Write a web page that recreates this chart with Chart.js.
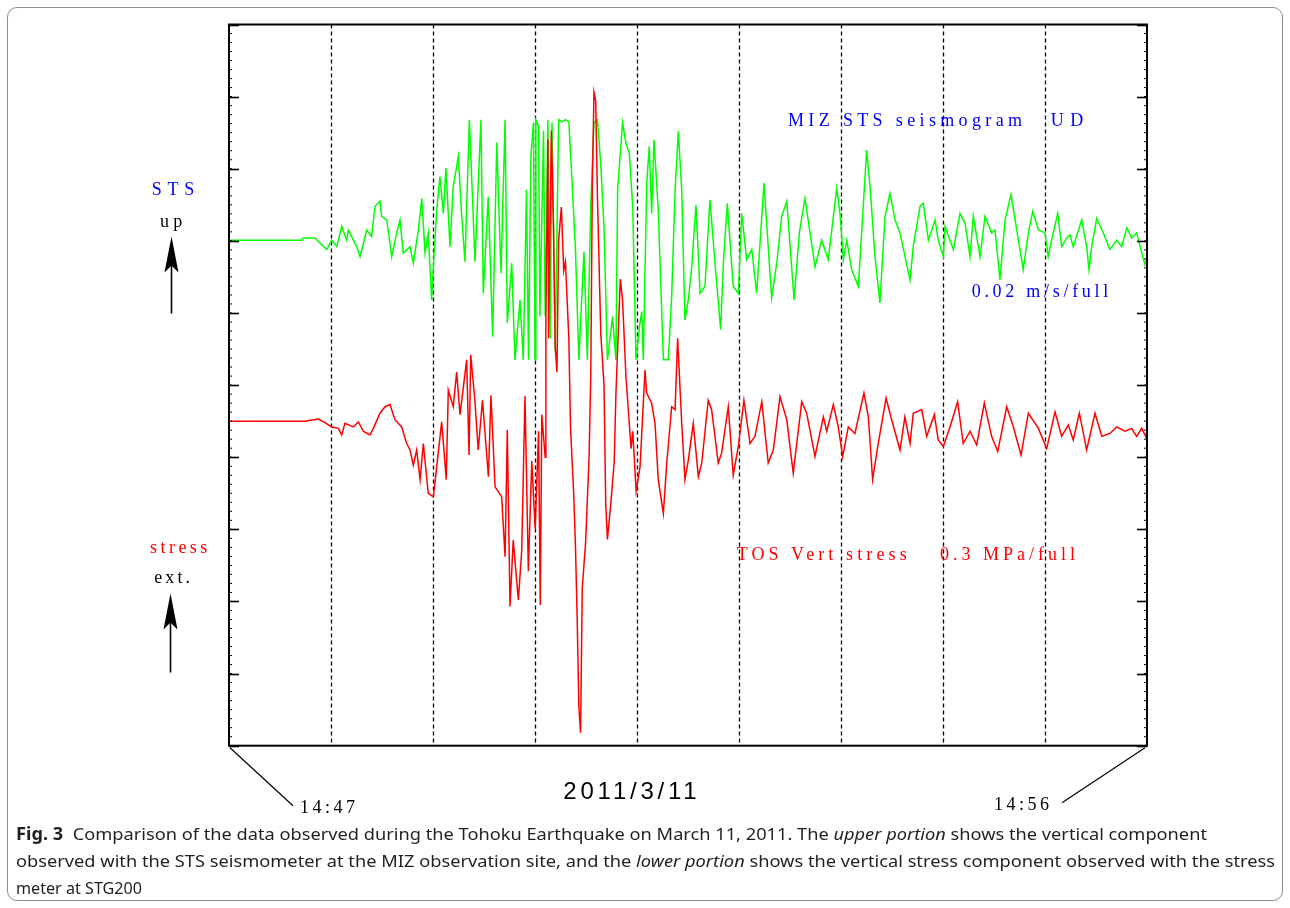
<!DOCTYPE html>
<html><head><meta charset="utf-8">
<script src="https://cdn.jsdelivr.net/npm/chart.js@4.4.1/dist/chart.umd.min.js"></script>
<style>
html,body{margin:0;padding:0;background:#fff;}
#wrap{position:relative;width:1290px;height:908px;overflow:hidden;background:#fff;}
#frame{position:absolute;left:7px;top:7px;width:1276px;height:894px;border:1.5px solid #8d8d8d;border-radius:10px;box-sizing:border-box;}
canvas{position:absolute;left:0;top:0;}
.lbl{position:absolute;white-space:pre;line-height:1;}
.m{display:inline-block;width:0;height:0;vertical-align:baseline;}
.cap{position:absolute;left:16px;white-space:pre;font-family:"Noto Sans","Open Sans",sans-serif;font-size:17px;color:#231f20;transform-origin:0 0;line-height:1;}
</style></head>
<body><div id="wrap"><div id="frame"></div><canvas id="c" width="1290" height="908"></canvas></div>
<script>
// ---- data (time in seconds after 14:47:00, value in chart divisions) ----
const stsTime = [
0,42.8,43.7,50.6,53.5,57.5,60.4,63.4,66.3,69.2,
70.2,75.1,77.1,81.0,83.9,85.9,88.8,89.8,92.8,95.7,
98.6,100.6,102.5,106.5,108.4,111.4,113.4,115.3,117.2,119.2,
120.2,122.2,124.1,126.1,127.6,130.0,131.9,134.9,136.9,138.8,
141.4,142.8,144.7,148.2,149.6,152.5,155.1,157.5,160.0,162.4,
163.7,166.3,168.2,171.2,173.1,175.0,176.2,177.6,179.1,180.0,
180.5,182.1,182.9,185.0,186.0,187.6,189.0,190.0,191.9,193.9,
195.9,197.9,199.9,201.8,203.8,205.8,208.8,210.8,212.8,214.7,
216.7,218.7,220.6,222.6,225.6,227.6,228.6,231.5,233.5,235.5,
237.5,239.4,241.5,242.8,243.7,245.7,247.2,248.6,250.0,252.5,
255.5,258.4,260.4,262.4,264.3,266.3,268.2,270.2,272.2,274.7,
277.1,280.0,282.9,285.9,289.2,290.8,293.1,296.6,299.6,301.6,
304.5,307.5,310.4,314.7,319.2,322.2,325.1,328.1,332.4,335.5,
338.8,341.8,344.7,348.6,352.5,357.5,359.4,361.4,363.4,366.3,
370.2,375.1,377.1,380.0,382.9,385.9,388.8,391.8,394.7,400.6,
402.5,406.5,408.4,411.4,415.3,417.2,420.2,421.2,426.1,430.0,
432.9,435.9,437.8,441.8,444.7,448.6,450.6,453.5,456.5,460.0,
463.4,467.2,470.2,472.8,476.1,480.0,481.9,483.9,487.5,489.8,
492.8,494.7,496.6,501.6,504.5,505.9,507.5,510.4,514.3,518.2,
522.2,525.1,528.1,531.0,533.9,536.9,538.8,540.0];
const stsValue = [
7.01,7.01,7.04,7.04,6.97,6.88,7.01,6.92,7.20,7.01,
7.15,6.92,6.78,7.15,7.06,7.48,7.55,7.34,7.29,6.78,
7.11,7.29,6.83,6.92,6.69,7.15,7.59,6.83,7.11,6.18,
6.64,7.43,7.89,7.38,8.01,6.92,7.75,8.17,7.34,6.71,
8.68,7.85,6.71,8.68,6.27,7.61,5.67,8.36,6.55,8.68,
5.86,6.69,5.35,6.18,5.35,7.71,5.35,8.18,8.64,5.35,
8.68,8.59,5.95,8.53,5.95,8.68,5.65,8.64,5.47,8.68,
8.65,8.68,8.65,7.82,6.88,5.35,6.85,5.35,7.47,8.64,
8.68,8.06,7.18,5.35,5.95,5.35,7.71,8.64,8.35,8.21,
7.47,5.35,5.82,6.02,5.35,7.78,8.31,7.38,8.40,7.43,
5.35,5.35,6.23,7.71,8.52,7.71,5.90,6.18,6.64,7.50,
6.27,6.37,7.57,6.69,5.77,6.69,7.52,6.37,6.27,7.38,
6.74,6.88,6.27,7.80,6.21,6.69,7.34,7.55,6.18,7.11,
7.59,7.11,6.64,7.01,6.74,7.73,7.38,6.74,7.01,6.60,
6.37,8.26,7.75,6.78,6.14,7.34,7.66,7.29,7.11,6.46,
6.92,7.48,7.52,7.01,7.29,7.01,6.78,7.20,6.88,7.38,
7.25,6.78,7.34,6.78,7.34,7.11,7.15,6.46,7.29,7.64,
7.15,6.60,7.11,7.41,7.15,7.11,6.78,7.01,7.38,6.92,
7.04,7.08,6.92,7.29,6.92,6.60,6.92,7.31,7.11,6.88,
7.01,6.92,7.18,7.04,7.11,6.83,6.67,6.78];
const stressTime = [
0,44.7,52.5,56.5,60.4,64.3,66.3,68.2,73.1,76.1,
79.0,82.9,84.9,88.8,91.8,94.7,97.6,101.6,104.5,106.5,
108.4,110.4,112.4,114.3,117.2,120.2,122.2,125.1,127.8,129.0,
131.9,133.9,135.9,139.8,141.2,142.2,144.7,146.6,149.1,152.6,
154.1,156.5,160.4,162.4,163.7,165.3,167.2,170.2,172.2,174.1,
176.1,178.1,180.1,182.1,183.1,184.0,186.0,186.4,187.6,188.0,
189.6,190.9,191.9,192.9,193.9,195.5,196.9,197.9,199.9,200.9,
202.8,203.8,204.8,205.8,206.8,207.8,209.8,211.8,212.8,213.7,
214.7,215.7,216.7,218.7,220.6,221.6,222.6,224.6,226.6,227.6,
230.2,231.5,233.5,236.5,237.5,239.5,241.8,244.7,245.7,248.6,
250.6,252.5,255.5,257.5,260.4,262.4,263.9,266.3,268.2,270.2,
273.1,276.1,278.1,281.9,283.9,287.8,289.8,293.7,296.6,299.6,
302.9,306.5,309.4,313.4,317.2,320.2,324.1,328.1,331.9,336.9,
339.8,344.7,349.6,351.6,355.5,358.4,361.0,364.3,368.2,373.5,
376.1,378.6,381.9,386.5,389.8,394.7,397.6,400.6,402.5,407.5,
410.4,414.9,417.2,420.2,424.1,428.6,431.9,435.9,439.8,444.3,
448.6,452.2,457.5,461.4,465.9,470.2,476.1,481.0,485.9,489.8,
493.7,496.6,500.2,504.5,509.4,513.4,518.2,522.2,527.1,531.0,
533.9,536.9,539.2,540.0];
const stressValue = [
4.50,4.50,4.53,4.48,4.42,4.40,4.31,4.47,4.42,4.49,
4.36,4.31,4.40,4.61,4.70,4.73,4.52,4.42,4.19,4.10,
3.89,4.10,3.69,4.19,3.50,3.45,3.87,4.49,3.69,4.93,
4.70,5.18,4.59,5.35,4.03,5.42,4.77,4.10,4.79,3.73,
4.86,3.59,3.45,2.62,4.38,1.93,2.85,2.02,2.71,4.85,
2.42,3.95,3.01,4.36,1.95,4.59,4.00,5.94,8.41,5.65,
8.53,7.18,5.53,5.18,7.00,7.47,6.59,6.71,5.65,4.41,
3.47,2.77,1.77,0.54,0.18,2.18,2.83,4.00,5.12,7.76,
9.06,8.94,7.65,5.71,5.00,3.36,2.86,3.36,3.94,4.88,
6.47,6.18,5.12,4.12,4.36,3.53,3.87,5.21,4.89,4.75,
4.47,3.69,3.22,3.92,4.70,4.66,5.65,4.47,3.69,3.96,
4.47,3.73,3.92,4.79,4.66,3.92,4.06,4.70,3.75,4.15,
4.79,4.19,4.29,4.77,3.92,4.10,4.84,4.52,3.78,4.77,
4.61,4.01,4.56,4.36,4.73,4.42,4.01,4.42,4.33,4.89,
4.56,3.69,4.19,4.82,4.52,4.10,4.56,4.19,4.61,4.66,
4.29,4.59,4.24,4.15,4.42,4.77,4.19,4.36,4.17,4.75,
4.29,4.08,4.70,4.42,4.03,4.61,4.40,4.12,4.63,4.29,
4.45,4.24,4.61,4.10,4.61,4.29,4.33,4.42,4.36,4.40,
4.29,4.40,4.29,4.35];
const minuteMarks = [0,60,120,180,240,300,360,420,480,540];
const yMajorTicks = [0,1,2,3,4,5,6,7,8,9,10];
const startLabel = '14:47';
const endLabel = '14:56';
const dateLabel = '2011/3/11';

// ---- chart ----
const decor = {
  id:'decor',
  beforeDatasetsDraw(chart){
    const {ctx, chartArea:a, scales:{x}} = chart;
    ctx.save();
    ctx.strokeStyle='#000'; ctx.lineWidth=1.3; ctx.setLineDash([4,3]);
    minuteMarks.forEach(m=>{
      if(m<=x.min||m>=x.max) return;
      const px=Math.round(x.getPixelForValue(m))+0.5;
      ctx.beginPath(); ctx.moveTo(px,a.top); ctx.lineTo(px,a.bottom); ctx.stroke();
    });
    ctx.restore();
  },
  afterDatasetsDraw(chart){
    const {ctx, chartArea:a, scales:{y}} = chart;
    ctx.save();
    ctx.strokeStyle='#000';
    // minor ticks
    ctx.lineWidth=1;
    for(let v=y.min; v<=y.max+1e-9; v+=0.125){
      const py=y.getPixelForValue(v);
      ctx.beginPath(); ctx.moveTo(a.left,py); ctx.lineTo(a.left+3,py); ctx.stroke();
      ctx.beginPath(); ctx.moveTo(a.right,py); ctx.lineTo(a.right-3,py); ctx.stroke();
    }
    ctx.lineWidth=1.6;
    yMajorTicks.forEach(v=>{
      const py=Math.round(y.getPixelForValue(v))+0.5;
      ctx.beginPath(); ctx.moveTo(a.left,py); ctx.lineTo(a.left+10,py); ctx.stroke();
      ctx.beginPath(); ctx.moveTo(a.right,py); ctx.lineTo(a.right-10,py); ctx.stroke();
    });
    // frame
    ctx.lineWidth=2;
    ctx.strokeRect(a.left,a.top,a.right-a.left,a.bottom-a.top);
    // slanted leader lines to time labels
    ctx.lineWidth=1.2;
    ctx.beginPath(); ctx.moveTo(a.left+1,a.bottom+2); ctx.lineTo(a.left+64,a.bottom+60); ctx.stroke();
    ctx.beginPath(); ctx.moveTo(a.right-2,a.bottom+2); ctx.lineTo(a.right-85,a.bottom+57); ctx.stroke();
    // arrows
    const arrow=(xc,tip,end)=>{
      ctx.lineWidth=1.6;
      ctx.beginPath(); ctx.moveTo(xc,tip+25); ctx.lineTo(xc,end); ctx.stroke();
      ctx.fillStyle='#000';
      ctx.beginPath(); ctx.moveTo(xc,tip); ctx.lineTo(xc+7,tip+36); ctx.lineTo(xc,tip+29); ctx.lineTo(xc-7,tip+36); ctx.closePath(); ctx.fill();
    };
    arrow(a.left-57.5, a.top+212, a.top+289);
    arrow(a.left-58.5, a.top+569, a.top+648);
    ctx.restore();
  }
};

new Chart(document.getElementById('c').getContext('2d'), {
  type:'line',
  data:{datasets:[
    {label:'TOS Vert stress', data:stressTime.map((t,i)=>({x:t,y:stressValue[i]})),
     borderColor:'#ff0000', borderWidth:1.5, pointRadius:0, tension:0, fill:false, order:1},
    {label:'MIZ STS seismogram UD', data:stsTime.map((t,i)=>({x:t,y:stsValue[i]})),
     borderColor:'#00ff00', borderWidth:1.5, pointRadius:0, tension:0, fill:false, order:2}
  ]},
  options:{
    responsive:false, animation:false, devicePixelRatio:1, events:[],
    layout:{padding:{left:229,right:143,top:24.5,bottom:162.3}},
    plugins:{legend:{display:false}, tooltip:{enabled:false}},
    scales:{
      x:{type:'linear', min:0, max:540, display:false},
      y:{type:'linear', min:0, max:10, display:false}
    }
  },
  plugins:[decor]
});

// ---- text labels ----
const wrap=document.getElementById('wrap');
const SERIF='"Liberation Serif","Times New Roman",serif';
const labels=[
  {t:'MIZ STS seismogram', x:788, b:126, w:234, c:'#0000ff'},
  {t:'UD', x:1050.7, b:126, w:32.6, c:'#0000ff'},
  {t:'0.02 m/s/full', x:971.7, b:296.7, w:136.6, c:'#0000ff'},
  {t:'TOS Vert stress', x:736.7, b:560, w:170, c:'#ff0000'},
  {t:'0.3 MPa/full', x:940, b:560, w:135, c:'#ff0000'},
  {t:'STS', x:151.7, b:194.6, w:42.6, c:'#0000ff'},
  {t:'up', x:160, b:227, w:22.3, c:'#000000'},
  {t:'stress', x:150, b:553.3, w:57.3, c:'#ff0000'},
  {t:'ext.', x:154.3, b:583, w:35.7, c:'#000000'},
  {t:startLabel, x:300, b:813, w:55, c:'#000000'},
  {t:endLabel, x:994, b:810, w:55, c:'#000000'},
  {t:dateLabel, x:563.3, b:799.3, w:133.4, c:'#000000', font:'24px "Liberation Sans",Arial,sans-serif'}
];
function baselineOf(el){
  const m=el.querySelector('.m');
  return m.getBoundingClientRect().top - wrap.getBoundingClientRect().top;
}
labels.forEach(L=>{
  const d=document.createElement('div');
  d.className='lbl';
  d.style.font=L.font||('18px '+SERIF);
  d.style.color=L.c;
  d.style.left=L.x+'px'; d.style.top='0px';
  const s=document.createElement('span'); s.textContent=L.t; d.appendChild(s);
  const m=document.createElement('span'); m.className='m'; d.appendChild(m);
  wrap.appendChild(d);
  const nat=s.getBoundingClientRect().width;
  const n=L.t.length;
  if(n>1){ s.style.letterSpacing=((L.w-nat)/(n-1))+'px'; }
  d.style.top=(L.b-baselineOf(d))+'px';
});

// ---- caption ----
const capLines=[
  {h:'<b>Fig. 3</b>&nbsp; Comparison of the data observed during the Tohoku Earthquake on March 11, 2011. The <i>upper portion</i> shows the vertical component', w:1191, b:840},
  {h:'observed with the STS seismometer at the MIZ observation site, and the <i>lower portion</i> shows the vertical stress component observed with the stress', w:1259, b:867},
  {h:'meter at STG200', w:126, b:894}
];
capLines.forEach(C=>{
  const d=document.createElement('div'); d.className='cap'; d.style.top='0px';
  const s=document.createElement('span'); s.innerHTML=C.h; d.appendChild(s);
  const m=document.createElement('span'); m.className='m'; d.appendChild(m);
  wrap.appendChild(d);
  const nat=s.getBoundingClientRect().width;
  d.style.transform='scaleX('+(C.w/nat)+')';
  d.style.top=(C.b-baselineOf(d))+'px';
});
</script>
</body></html>
